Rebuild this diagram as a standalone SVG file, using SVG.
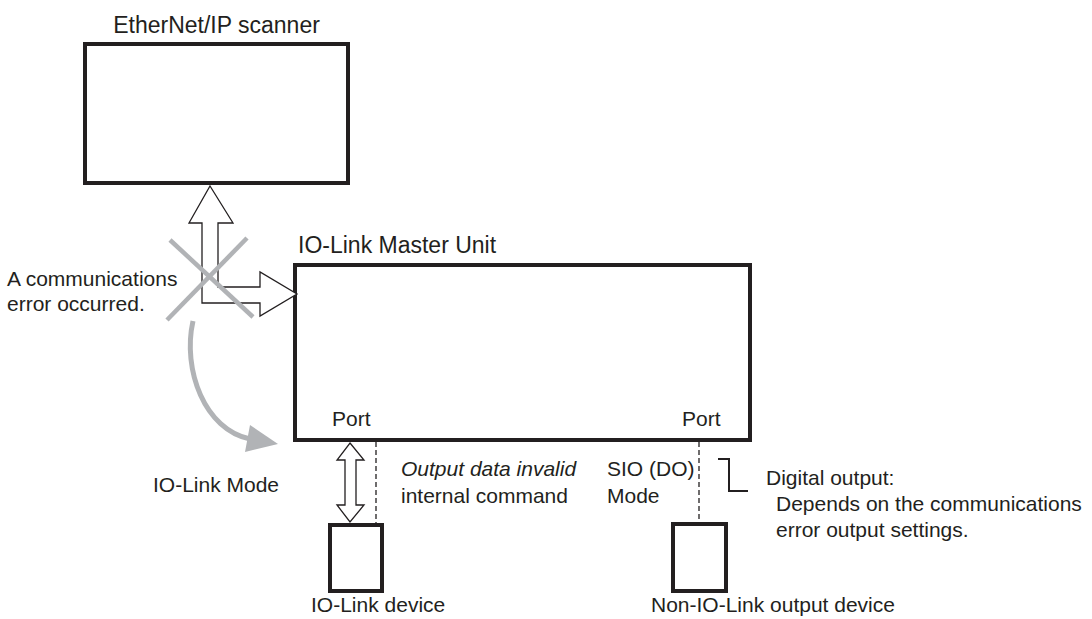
<svg xmlns="http://www.w3.org/2000/svg" width="1092" height="619" viewBox="0 0 1092 619">
<style>
.t{font-family:"Liberation Sans",Arial,sans-serif;font-size:21px;fill:#231f20}
.h{font-size:23px}
.box{fill:#fff;stroke:#231f20;stroke-width:4}
.dev{fill:#fff;stroke:#231f20;stroke-width:4}
.fat{fill:#fff;stroke:#231f20;stroke-width:1.3;stroke-linejoin:miter}
.dash{stroke:#231f20;stroke-width:1.3;stroke-dasharray:5 3;fill:none}
.gray{stroke:#b1b3b6;fill:none}
</style>
<rect width="1092" height="619" fill="#fff"/>
<g id="scanner">
<rect class="box" x="85" y="44" width="263" height="139"/>
<text class="t h" x="216.5" y="33" text-anchor="middle">EtherNet/IP scanner</text>
</g>
<g id="master">
<rect class="box" x="295" y="265" width="455" height="175"/>
<text class="t h" x="298" y="253">IO-Link Master Unit</text>
<text class="t" x="332" y="426">Port</text>
<text class="t" x="682" y="426">Port</text>
</g>
<g id="iolink-device">
<rect class="dev" x="330" y="525" width="52" height="66"/>
<text class="t" x="311" y="612">IO-Link device</text>
</g>
<g id="non-iolink-device">
<rect class="dev" x="673" y="524" width="53" height="67"/>
<text class="t" x="651" y="612">Non-IO-Link output device</text>
</g>
<g id="connectors">
<polygon class="fat" points="210,186 233,223 218,223 218,287 260,287 260,272 297,294 260,316 260,303 202,303 202,223 189,223"/>
<line class="gray" x1="170" y1="240" x2="253" y2="317" stroke-width="4.5"/>
<line class="gray" x1="247" y1="238" x2="167" y2="320" stroke-width="4.5"/>
<path class="gray" d="M193,321 C182,370 205,430 250,439" stroke-width="5"/>
<polygon points="278,444 250,425 245,452" fill="#b1b3b6"/>
<polygon class="fat" points="350,443 364,460 356,460 356,505 364,505 350,522 337,505 345,505 345,460 337,460"/>
<line class="dash" x1="376" y1="442" x2="376" y2="525"/>
<line class="dash" x1="699" y1="442" x2="699" y2="520"/>
<polyline points="718,459 729,459 729,491 748,491" fill="none" stroke="#231f20" stroke-width="2"/>
</g>
<g id="labels">
<text class="t" x="7" y="286">A communications</text>
<text class="t" x="7" y="311">error occurred.</text>
<text class="t" x="153" y="492">IO-Link Mode</text>
<text class="t" x="401" y="476" font-style="italic">Output data invalid</text>
<text class="t" x="401" y="503">internal command</text>
<text class="t" x="607" y="476">SIO (DO)</text>
<text class="t" x="607" y="503">Mode</text>
<text class="t" x="766" y="485">Digital output:</text>
<text class="t" x="776" y="511">Depends on the communications</text>
<text class="t" x="776" y="537">error output settings.</text>
</g>
</svg>
